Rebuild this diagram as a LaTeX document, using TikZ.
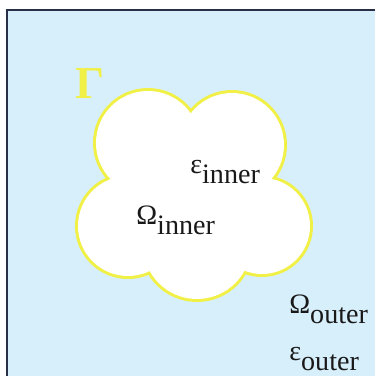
\documentclass[tikz,border=0pt]{standalone}
\usepackage{fontspec}
\setmainfont{Liberation Serif}
\usepackage{tikz}
\definecolor{SkyBg}{RGB}{215,239,251}
\definecolor{FrameNavy}{RGB}{40,48,72}
\definecolor{RimYellow}{RGB}{240,240,70}
\definecolor{InkBlack}{RGB}{25,25,25}
\newcommand{\lowsub}[1]{\raisebox{-0.21cm}{#1}}

\begin{document}
\begin{tikzpicture}[
      lbl/.style={anchor=base west, inner sep=0pt, text=InkBlack,
                  font=\fontsize{16}{18}\selectfont},
      rim/.style={draw=RimYellow, line width=3.4pt},
      blob/.style={fill=white}
    ]
    \useasboundingbox (0,0) rectangle (7.5,7.52);
    % outer region
    \draw[fill=SkyBg, draw=FrameNavy, line width=1.4pt] (0.14,7.32) rectangle (7.9,-0.4);

    % inner region: union of five lobes
    \foreach \c/\r in {{(2.96,4.66)}/1.04, {(4.64,4.62)}/1.04, {(5.24,3.00)}/0.96,
                       {(3.94,2.62)}/1.08, {(2.56,3.00)}/1.00}
      \draw[rim] \c circle (\r);
    \foreach \c/\r in {{(2.96,4.66)}/1.04, {(4.64,4.62)}/1.04, {(5.24,3.00)}/0.96,
                       {(3.94,2.62)}/1.08, {(2.56,3.00)}/1.00}
      \fill[blob] \c circle (\r);
    \fill[blob] (2.96,4.66) -- (4.64,4.62) -- (5.24,3.00) -- (3.94,2.62) -- (2.56,3.00) -- cycle;

    % labels
    \node[lbl, text=RimYellow, font=\fontsize{26}{28}\selectfont\bfseries] (gam) at (1.50,5.56) {Γ};
    \node[lbl] (epsin) at (3.80,4.06) {ε\lowsub{inner}};
    \node[lbl] (omin)  at (2.72,3.04) {Ω\lowsub{inner}};
    \node[lbl] (omout) at (5.78,1.26) {Ω\lowsub{outer}};
    \node[lbl] (epsout) at (5.78,0.32) {ε\lowsub{outer}};
\end{tikzpicture}
\end{document}
